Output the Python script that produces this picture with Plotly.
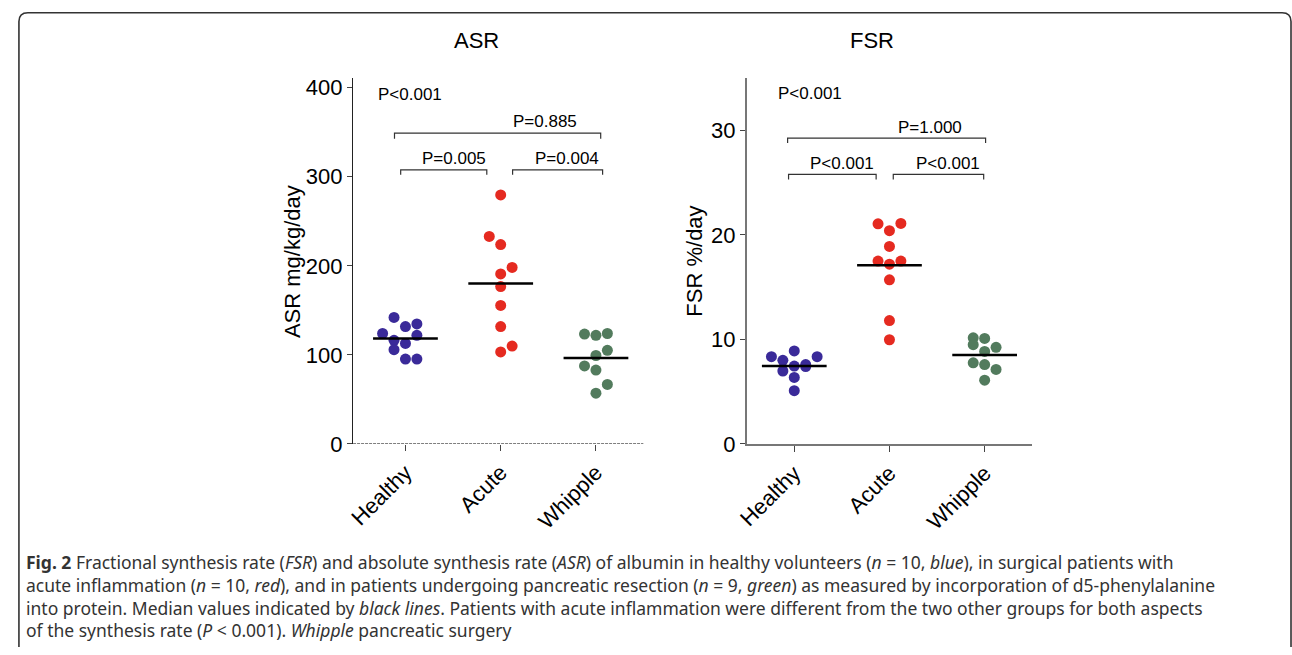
import plotly.graph_objects as go

# ---------------- data ----------------
categories = ["Healthy", "Acute", "Whipple"]

asr_healthy = [142, 131.8, 134.7, 124, 122, 116.4, 112.8, 105.9, 95.3, 95.3]
asr_acute = [279.6, 233, 223.8, 198.2, 190.9, 176.7, 155.5, 131.8, 109.9, 103.3]
asr_whipple = [123.4, 121.9, 124, 105.1, 99.3, 87.6, 82.9, 66.8, 57]
asr_medians = [118.3, 180, 96.4]

fsr_healthy = [8.9, 8.35, 8.35, 8.0, 7.45, 7.6, 7.4, 6.98, 6.36, 5.1]
fsr_acute = [21.06, 21.1, 20.4, 18.9, 17.5, 17.5, 17.2, 15.7, 11.8, 9.97]
fsr_whipple = [10.15, 10.1, 9.5, 9.25, 8.85, 7.76, 7.6, 7.13, 6.1]
fsr_medians = [7.45, 17.1, 8.5]

# horizontal scatter (jitter) offsets of the dots, in category units
asr_healthy_off = [-0.12, 0, 0.12, -0.24, 0.12, -0.12, 0, -0.12, 0, 0.12]
asr_acute_off = [0, -0.12, 0, 0.12, 0, 0, 0, 0, 0.12, 0]
asr_whipple_off = [-0.12, 0, 0.12, 0.12, 0, -0.12, 0, 0.12, 0]
fsr_healthy_off = [0, -0.24, 0.24, -0.12, 0, 0.12, 0.12, -0.12, 0, 0]
fsr_acute_off = [-0.12, 0.12, 0, 0, -0.12, 0.12, 0, 0, 0, 0]
fsr_whipple_off = [-0.12, 0, -0.12, 0.12, 0, -0.12, 0, 0.12, 0]

asr_ticks = [0, 100, 200, 300, 400]
fsr_ticks = [0, 10, 20, 30]

asr_overall_p = "P<0.001"
fsr_overall_p = "P<0.001"
asr_pair_labels = ["P=0.885", "P=0.005", "P=0.004"]
fsr_pair_labels = ["P=1.000", "P<0.001", "P<0.001"]

caption_lines = [
    "<b>Fig. 2</b> Fractional synthesis rate (<i>FSR</i>) and absolute synthesis rate (<i>ASR</i>) of albumin in healthy volunteers (<i>n</i> = 10, <i>blue</i>), in surgical patients with",
    "acute inflammation (<i>n</i> = 10, <i>red</i>), and in patients undergoing pancreatic resection (<i>n</i> = 9, <i>green</i>) as measured by incorporation of d5-phenylalanine",
    "into protein. Median values indicated by <i>black lines</i>. Patients with acute inflammation were different from the two other groups for both aspects",
    "of the synthesis rate (<i>P</i> < 0.001). <i>Whipple</i> pancreatic surgery",
]

# ---------------- layout helpers ----------------
# bracket geometry: (x start, x end, bracket level, tick drop, label x, label y)
asr_brackets = [(-0.115, 2.05, 349, 6.5, 1.46, 361.5),
                (-0.05, 0.854, 307.8, 5.5, 0.51, 321),
                (1.125, 2.07, 307.8, 5.5, 1.70, 321)]
fsr_brackets = [(-0.07, 2.01, 29.25, 0.45, 1.43, 30.3),
                (-0.06, 0.86, 25.8, 0.5, 0.50, 26.8),
                (1.04, 1.99, 25.8, 0.5, 1.62, 26.8)]

W, H = 1292, 655
colors = ["#3a2a99", "#e52a20", "#527b5d"]
FONT = "Liberation Sans, Arial, sans-serif"


def px(x):
    return x / W


def py(y):
    return 1 - y / H


fig = go.Figure()


def add_group(vals, offs, ci, xa, ya):
    fig.add_trace(go.Scatter(
        x=[ci + o for o in offs], y=vals, mode="markers",
        marker=dict(color=colors[ci], size=11, line=dict(width=0)),
        xaxis=xa, yaxis=ya, showlegend=False, hoverinfo="y"))


add_group(asr_healthy, asr_healthy_off, 0, "x", "y")
add_group(asr_acute, asr_acute_off, 1, "x", "y")
add_group(asr_whipple, asr_whipple_off, 2, "x", "y")
add_group(fsr_healthy, fsr_healthy_off, 0, "x2", "y2")
add_group(fsr_acute, fsr_acute_off, 1, "x2", "y2")
add_group(fsr_whipple, fsr_whipple_off, 2, "x2", "y2")

# median lines
for meds, xa, ya in [(asr_medians, "x", "y"), (fsr_medians, "x2", "y2")]:
    mx, my = [], []
    for i, m in enumerate(meds):
        mx += [i - 0.34, i + 0.34, None]
        my += [m, m, None]
    fig.add_trace(go.Scatter(x=mx, y=my, mode="lines",
                             line=dict(color="black", width=2.5),
                             xaxis=xa, yaxis=ya, showlegend=False, hoverinfo="skip"))

annotations = []
shapes = []


def brackets(labels, specs, xref, yref):
    for label, (xa, xb, lvl, drop, lx, ly) in zip(labels, specs):
        shapes.append(dict(type="path", xref=xref, yref=yref,
                           path=f"M {xa},{lvl - drop} L {xa},{lvl} L {xb},{lvl} L {xb},{lvl - drop}",
                           line=dict(color="#333333", width=1.2)))
        annotations.append(dict(xref=xref, yref=yref, x=lx, y=ly, text=label, showarrow=False,
                                font=dict(family=FONT, size=17, color="black"),
                                xanchor="center", yanchor="middle"))


brackets(asr_pair_labels, asr_brackets, "x", "y")
brackets(fsr_pair_labels, fsr_brackets, "x2", "y2")

annotations.append(dict(xref="x", yref="y", x=0.05, y=392, text=asr_overall_p, showarrow=False,
                        font=dict(family=FONT, size=17, color="black"), xanchor="center", yanchor="middle"))
annotations.append(dict(xref="x2", yref="y2", x=0.17, y=33.55, text=fsr_overall_p, showarrow=False,
                        font=dict(family=FONT, size=17, color="black"), xanchor="center", yanchor="middle"))

# dashed baseline of the ASR panel
shapes.append(dict(type="line", xref="x", yref="y", x0=-0.55, x1=2.5, y0=0, y1=0,
                   line=dict(color="#555555", width=1.2, dash="3px,1px")))

# panel titles
for t, x in [("ASR", 470), ("FSR", 868)]:
    annotations.append(dict(xref="paper", yref="paper", x=px(x), y=py(38), text=t, showarrow=False,
                            font=dict(family=FONT, size=22, color="black"),
                            xanchor="center", yanchor="middle"))
# y-axis titles
for t, x in [("ASR mg/kg/day", 284), ("FSR %/day", 689)]:
    annotations.append(dict(xref="paper", yref="paper", x=px(x), y=py(265), text=t, showarrow=False,
                            textangle=-90, font=dict(family=FONT, size=22, color="black"),
                            xanchor="center", yanchor="middle"))

# caption (one multi-line text block)
annotations.append(dict(xref="paper", yref="paper", x=px(13), y=py(607.5), text="<br>".join(caption_lines),
                        showarrow=False, xanchor="left", yanchor="middle", align="left",
                        font=dict(family="Noto Sans, Open Sans, sans-serif", size=17.5, color="#333333")))

# frame (rounded top corners)
x0, x1, yt, yb, r = 8, 1291, 10, 660, 9
shapes.append(dict(type="path", xref="paper", yref="paper",
                   path=(f"M {px(x0)},{py(yb)} L {px(x0)},{py(yt + r)} Q {px(x0)},{py(yt)} {px(x0 + r)},{py(yt)} "
                         f"L {px(x1 - r)},{py(yt)} Q {px(x1)},{py(yt)} {px(x1)},{py(yt + r)} L {px(x1)},{py(yb)}"),
                   line=dict(color="#333333", width=1.6)))

y_dom = [py(452), py(77)]
common_x = dict(tickmode="array", tickvals=[0, 1, 2], ticktext=categories, tickangle=-45,
                ticks="outside", ticklen=6, tickcolor="#444444", showgrid=False, zeroline=False,
                tickfont=dict(family=FONT, size=22, color="black"))
common_y = dict(ticks="outside", ticklen=5, tickcolor="#444444", showgrid=False, zeroline=False,
                showline=True, tickfont=dict(family=FONT, size=22, color="black"))

fig.update_layout(
    width=W, height=H, autosize=False,
    margin=dict(l=0, r=0, t=0, b=0),
    paper_bgcolor="white", plot_bgcolor="white",
    showlegend=False,
    xaxis=dict(domain=[px(345), px(638)], range=[-0.55, 2.5], anchor="y", showline=False,
               **common_x),
    yaxis=dict(domain=y_dom, range=[0, 410.7], anchor="x", tickvals=asr_ticks,
               linecolor="#222222", linewidth=1.2, **common_y),
    xaxis2=dict(domain=[px(742), px(1030)], range=[-0.5, 2.5], anchor="y2", showline=True,
                linecolor="#777777", linewidth=1.5, **common_x),
    yaxis2=dict(domain=y_dom, range=[0, 35], anchor="x2", tickvals=fsr_ticks,
                linecolor="#777777", linewidth=1.5, **common_y),
    annotations=annotations,
    shapes=shapes,
)

fig.write_html("out.html", config={"displayModeBar": False},
               post_script="document.body.style.margin='0';document.body.style.overflow='hidden';")
